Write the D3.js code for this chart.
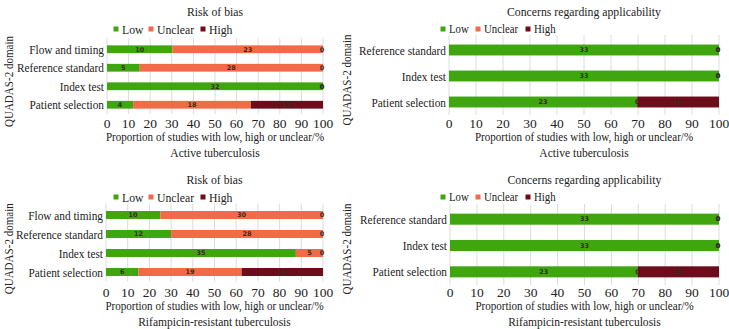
<!DOCTYPE html>
<head>
    <meta charset="UTF-8">
    <script src="https://d3js.org/d3.v7.min.js"></script>
    <style>
        body { margin: 0; background: white; }
        svg text { font-family: 'Liberation Serif', 'Times New Roman', Times, serif; fill: #222; }
        svg text.val { font-family: 'DejaVu Sans', sans-serif; font-size: 6.5px; font-weight: bold; fill: #3a2a1a; }
        .grid line { stroke: #dcdcdc; stroke-width: 1px; }
    </style>
</head>
<body>
    <div id="viz"></div>
    <script>
        // categories (top to bottom)
        const riskDomains = ["Flow and timing", "Reference standard", "Index test", "Patient selection"];
        const applicDomains = ["Reference standard", "Index test", "Patient selection"];
        const levels = ["Low", "Unclear", "High"];
        const levelColors = ["#3fa610", "#f26a48", "#6d0d1b"];
        const ticks = [0, 10, 20, 30, 40, 50, 60, 70, 80, 90, 100];

        // active tuberculosis
        const activeRiskLow = [10, 5, 32, 4];
        const activeRiskUnclear = [23, 28, 0, 18];
        const activeRiskHigh = [0, 0, 0, 11];
        const activeApplicLow = [33, 33, 23];
        const activeApplicUnclear = [0, 0, 0];
        const activeApplicHigh = [0, 0, 10];

        // rifampicin-resistant tuberculosis
        const rifRiskLow = [10, 12, 35, 6];
        const rifRiskUnclear = [30, 28, 5, 19];
        const rifRiskHigh = [0, 0, 0, 15];
        const rifApplicLow = [33, 33, 23];
        const rifApplicUnclear = [0, 0, 0];
        const rifApplicHigh = [0, 0, 10];

        const width = 729, height = 329;
        const svg = d3.select('#viz').append('svg')
            .attr('width', width).attr('height', height);

        // the source font is a narrow serif, squeeze Liberation Serif a bit
        function condense(sel, f) {
            sel.each(function () {
                const w = this.getComputedTextLength();
                d3.select(this).attr('textLength', w * f).attr('lengthAdjust', 'spacingAndGlyphs');
            });
        }

        function drawPanel(p) {
            const g = svg.append('g');
            const x = d3.scaleLinear().domain([0, 100]).range([p.x0, p.x1]);
            const y = d3.scaleBand().domain(p.domains).range([p.yTop, p.yBot])
                .paddingInner(0.58).paddingOuter(0.29);

            // grid
            g.append('g').attr('class', 'grid')
                .selectAll('line').data(ticks).enter().append('line')
                .attr('x1', d => x(d)).attr('x2', d => x(d))
                .attr('y1', p.yTop - 2).attr('y2', p.yBot);

            // stacked rows
            const rows = p.domains.map((dom, i) => {
                const vals = [p.low[i], p.unclear[i], p.high[i]];
                const total = d3.sum(vals);
                let acc = 0;
                return vals.map((v, j) => {
                    const seg = { dom, v, j, start: acc / total * 100, end: (acc + v) / total * 100 };
                    acc += v;
                    return seg;
                });
            }).flat();

            g.selectAll('rect.seg').data(rows).enter().append('rect')
                .attr('class', 'seg')
                .attr('x', d => x(d.start))
                .attr('width', d => x(d.end) - x(d.start))
                .attr('y', d => y(d.dom))
                .attr('height', y.bandwidth())
                .attr('fill', d => levelColors[d.j]);

            g.selectAll('text.val').data(rows).enter().append('text')
                .attr('class', 'val')
                .attr('x', d => Math.min(x((d.start + d.end) / 2), p.x1 - 1))
                .attr('y', d => y(d.dom) + y.bandwidth() / 2)
                .attr('dy', '0.35em')
                .attr('text-anchor', 'middle')
                .text(d => d.v);

            // category labels
            g.selectAll('text.cat').data(p.domains).enter().append('text')
                .attr('class', 'cat')
                .attr('x', p.x0 - 3)
                .attr('y', d => y(d) + y.bandwidth() / 2)
                .attr('dy', '0.35em')
                .attr('text-anchor', 'end')
                .style('font-size', '13px')
                .text(d => d)
                .call(condense, 0.87);

            // x axis tick labels
            g.selectAll('text.tick').data(ticks).enter().append('text')
                .attr('x', d => x(d))
                .attr('y', p.tickY)
                .attr('dy', '0.35em')
                .attr('text-anchor', 'middle')
                .style('font-size', '13.5px')
                .text(d => d);

            const cx = (p.x0 + p.x1) / 2;
            g.append('text').attr('x', cx).attr('y', p.tickY + 14).attr('dy', '0.35em')
                .attr('text-anchor', 'middle').style('font-size', '12px')
                .text('Proportion of studies with low, high or unclear/%')
                .call(condense, 0.92);
            g.append('text').attr('x', cx).attr('y', p.tickY + 30).attr('dy', '0.35em')
                .attr('text-anchor', 'middle').style('font-size', '12px')
                .text(p.subtitle)
                .call(condense, 0.96);

            // title
            g.append('text').attr('x', cx).attr('y', p.titleY).attr('dy', '0.35em')
                .attr('text-anchor', 'middle').style('font-size', '12.5px')
                .text(p.title)
                .call(condense, 0.94);

            // y axis label
            g.append('text')
                .attr('transform', `translate(${p.yLabelX},${(p.yTop + p.tickY) / 2}) rotate(-90)`)
                .attr('dy', '0.35em')
                .attr('text-anchor', 'middle').style('font-size', '13px')
                .text('QUADAS-2 domain')
                .call(condense, 0.85);

            // legend
            const leg = g.selectAll('g.leg').data(levels).enter().append('g')
                .attr('transform', (d, i) => `translate(${p.legendX[i]},${p.legendY})`);
            leg.append('rect').attr('x', -2.5).attr('y', -2.5).attr('width', 5).attr('height', 5)
                .attr('fill', (d, i) => levelColors[i]);
            leg.append('text').attr('x', 6).attr('dy', '0.35em')
                .style('font-size', p.legendSize).text(d => d)
                .call(condense, 0.9);
        }

        drawPanel({
            domains: riskDomains, low: activeRiskLow, unclear: activeRiskUnclear, high: activeRiskHigh,
            x0: 107, x1: 323, yTop: 40, yBot: 114, tickY: 123, titleY: 12, legendY: 29,
            legendX: [116, 151, 203], legendSize: '13px', yLabelX: 8,
            title: 'Risk of bias', subtitle: 'Active tuberculosis'
        });
        drawPanel({
            domains: applicDomains, low: activeApplicLow, unclear: activeApplicUnclear, high: activeApplicHigh,
            x0: 449, x1: 719, yTop: 37, yBot: 115, tickY: 123, titleY: 12, legendY: 29,
            legendX: [443, 478, 528], legendSize: '12px', yLabelX: 346,
            title: 'Concerns regarding applicability', subtitle: 'Active tuberculosis'
        });
        drawPanel({
            domains: riskDomains, low: rifRiskLow, unclear: rifRiskUnclear, high: rifRiskHigh,
            x0: 106, x1: 323, yTop: 205.5, yBot: 281.5, tickY: 292, titleY: 180, legendY: 197,
            legendX: [116, 151, 203], legendSize: '13px', yLabelX: 8,
            title: 'Risk of bias', subtitle: 'Rifampicin-resistant tuberculosis'
        });
        drawPanel({
            domains: applicDomains, low: rifApplicLow, unclear: rifApplicUnclear, high: rifApplicHigh,
            x0: 450, x1: 719, yTop: 206, yBot: 285, tickY: 292, titleY: 180, legendY: 197,
            legendX: [443, 478, 528], legendSize: '12px', yLabelX: 346,
            title: 'Concerns regarding applicability', subtitle: 'Rifampicin-resistant tuberculosis'
        });
    </script>
</body>
</html>
